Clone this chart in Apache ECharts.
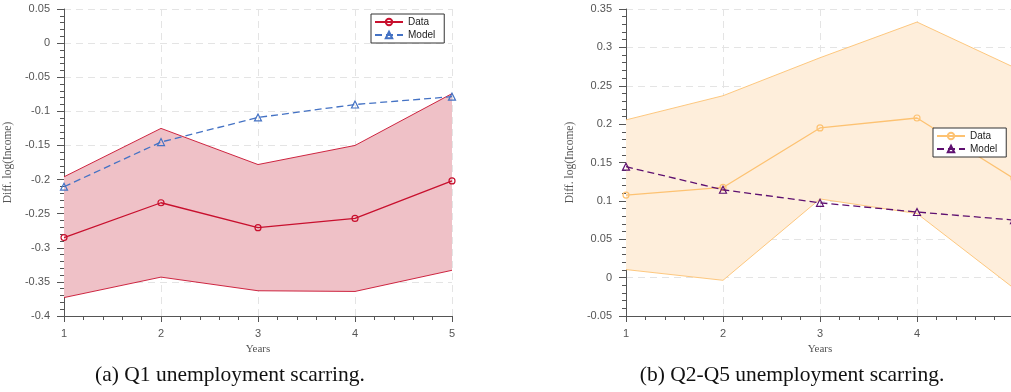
<!DOCTYPE html>
<html>
<head>
<meta charset="utf-8">
<script src="https://cdn.jsdelivr.net/npm/echarts@6/dist/echarts.min.js"></script>
<style>
  html, body { margin: 0; padding: 0; background: #fff; overflow: hidden; width: 1011px; height: 392px; }
  #q1 { position: absolute; left: 0; top: 0; width: 560px; height: 392px; }
  #q25 { position: absolute; left: 560px; top: 0; width: 451px; height: 392px; }
</style>
</head>
<body>
<div id="q1"></div>
<div id="q25"></div>
<script>
// Years since the unemployment spell
const years = [1, 2, 3, 4, 5];

// Q1: difference in log income, data with confidence band, and model
const q1Data  = [-0.285, -0.234, -0.2705, -0.257, -0.202];
const q1Upper = [-0.196, -0.125, -0.178, -0.150, -0.074];
const q1Lower = [-0.373, -0.343, -0.363, -0.364, -0.333];
const q1Model = [-0.2105, -0.145, -0.109, -0.090, -0.0785];

// Q2-Q5: difference in log income, data with confidence band, and model
const q25Data  = [0.1075, 0.1175, 0.195, 0.208, 0.129];
const q25Upper = [0.2055, 0.237, 0.2865, 0.333, 0.274];
const q25Lower = [0.0105, -0.0035, 0.1025, 0.0835, -0.014];
const q25Model = [0.1445, 0.1145, 0.0975, 0.0855, 0.075];

const SANS = '"Liberation Sans", Arial, sans-serif';
const SERIF = '"Liberation Serif", "Times New Roman", serif';

function pairs(vals) { return years.map((x, i) => [x, vals[i]]); }

function panel(cfg) {
  const axisCol = '#555';
  const gridLine = { show: true, lineStyle: { color: '#e4e4e4', type: [7, 5], width: 1 } };
  return {
    animation: false,
    grid: { left: cfg.gridLeft, top: 9, width: 388, height: 307, containLabel: false, outerBoundsMode: 'none' },
    legend: {
      data: ['Data', 'Model'],
      orient: 'vertical',
      left: cfg.legendLeft, top: cfg.legendTop,
      itemWidth: 28, itemHeight: 8, itemGap: 3,
      padding: [3, 9, 3, 3],
      borderColor: '#333', borderWidth: 1, backgroundColor: '#fff',
      textStyle: { fontSize: 10, color: '#222', fontFamily: SANS }
    },
    xAxis: {
      type: 'value', min: 1, max: 5, interval: 1,
      name: 'Years', nameLocation: 'middle', nameGap: 25,
      nameTextStyle: { fontFamily: SERIF, fontSize: 11, color: '#555' },
      axisLine: { show: true, onZero: false, lineStyle: { color: axisCol, width: 1 } },
      axisTick: { show: true, inside: false, length: 6, lineStyle: { color: axisCol } },
      minorTick: { show: true, splitNumber: 5, length: 4, lineStyle: { color: axisCol } },
      axisLabel: { fontSize: 11, color: '#555', fontFamily: SANS, margin: 12, showMaxLabel: true },
      splitLine: gridLine
    },
    yAxis: {
      type: 'value', min: cfg.yMin, max: cfg.yMax, interval: 0.05,
      name: 'Diff. log(Income)', nameLocation: 'middle', nameGap: cfg.nameGap,
      nameTextStyle: { fontFamily: SERIF, fontSize: 11.5, color: '#555' },
      axisLine: { show: true, onZero: false, lineStyle: { color: axisCol, width: 1 } },
      axisTick: { show: true, inside: false, length: 7, lineStyle: { color: axisCol } },
      minorTick: { show: true, splitNumber: 5, length: 4, lineStyle: { color: axisCol } },
      axisLabel: {
        fontSize: 11, color: '#555', fontFamily: SANS, margin: 14,
        formatter: v => String(+v.toFixed(2))
      },
      splitLine: gridLine
    },
    graphic: [{
      type: 'text', x: cfg.captionX, y: 375,
      style: { text: cfg.caption, align: 'center', verticalAlign: 'middle',
               font: '21.5px ' + SERIF, fill: '#111' }
    }],
    series: [
      {
        type: 'custom', name: 'band', silent: true, z: 1, clip: false,
        data: [[1, 0]],
        renderItem: (params, api) => {
          const pts = years.map((x, i) => api.coord([x, cfg.upper[i]]));
          for (let i = years.length - 1; i >= 0; i--) pts.push(api.coord([years[i], cfg.lower[i]]));
          return { type: 'polygon', shape: { points: pts }, style: { fill: cfg.fill } };
        }
      },
      {
        type: 'line', name: 'upper', data: pairs(cfg.upper), symbol: 'none', z: 2, silent: true,
        lineStyle: { color: cfg.dataColor, width: 0.9 }
      },
      {
        type: 'line', name: 'lower', data: pairs(cfg.lower), symbol: 'none', z: 2, silent: true,
        lineStyle: { color: cfg.dataColor, width: 0.9 }
      },
      {
        type: 'line', name: 'Data', data: pairs(cfg.data), z: 3,
        symbol: 'circle', symbolSize: 6,
        itemStyle: { color: 'rgba(0,0,0,0)', borderColor: cfg.dataColor, borderWidth: 1.2 },
        lineStyle: { color: cfg.dataColor, width: 1.3 }
      },
      {
        type: 'line', name: 'Model', data: pairs(cfg.model), z: 4,
        symbol: 'triangle', symbolSize: 7,
        itemStyle: { color: 'rgba(0,0,0,0)', borderColor: cfg.modelColor, borderWidth: 1.2 },
        lineStyle: { color: cfg.modelColor, width: 1.3, type: [7, 4] }
      }
    ]
  };
}

const chartA = echarts.init(document.getElementById('q1'), null, { renderer: 'canvas' });
chartA.setOption(panel({
  gridLeft: 64, yMin: -0.4, yMax: 0.05, nameGap: 46,
  upper: q1Upper, lower: q1Lower, data: q1Data, model: q1Model,
  fill: '#efc1c7', dataColor: '#c8102e', modelColor: '#4472c4',
  legendLeft: 371, legendTop: 14,
  caption: '(a) Q1 unemployment scarring.', captionX: 230
}));

const chartB = echarts.init(document.getElementById('q25'), null, { renderer: 'canvas' });
chartB.setOption(panel({
  gridLeft: 66, yMin: -0.05, yMax: 0.35, nameGap: 45,
  upper: q25Upper, lower: q25Lower, data: q25Data, model: q25Model,
  fill: '#feeedb', dataColor: '#fdc272', modelColor: '#5e1070',
  legendLeft: 373, legendTop: 128,
  caption: '(b) Q2-Q5 unemployment scarring.', captionX: 232
}));
</script>
</body>
</html>
